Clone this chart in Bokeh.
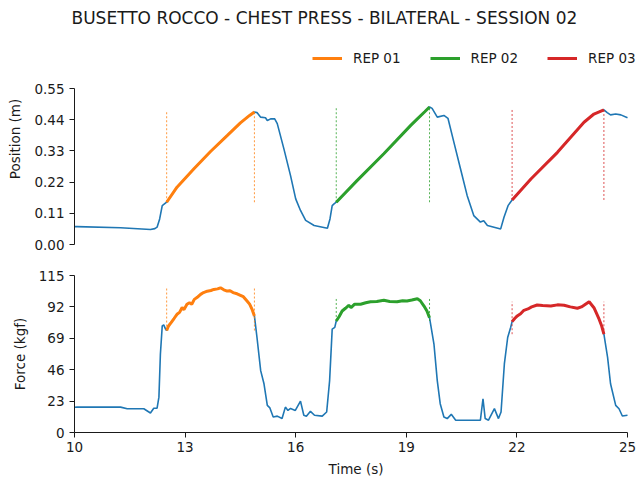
import numpy as np
from bokeh.plotting import figure
from bokeh.layouts import column
from bokeh.models import (Range1d, FixedTicker, PrintfTickFormatter, Legend,
                          LegendItem, Title)
from bokeh.embed import file_html
from bokeh.resources import INLINE

TITLE = "BUSETTO ROCCO - CHEST PRESS - BILATERAL - SESSION 02"
rep_labels = ["REP 01", "REP 02", "REP 03"]
rep_colors = ["#ff7f0e", "#2ca02c", "#d62728"]
rep_start = [12.50, 17.10, 21.87]
rep_end = [14.88, 19.63, 24.36]

pos_ticks = [0.00, 0.11, 0.22, 0.33, 0.44, 0.55]
force_ticks = [0, 23, 46, 69, 92, 115]
time_ticks = [10, 13, 16, 19, 22, 25]

t_pos = [10.00, 10.07, 11.25, 12.06, 12.18, 12.24, 12.31, 12.38, 12.44, 12.50,
         12.78, 13.24, 13.69, 14.14, 14.50, 14.75, 14.88, 14.95, 15.05, 15.18,
         15.23, 15.32, 15.43, 15.50, 15.68, 15.86, 16.00, 16.13, 16.27, 16.50,
         16.86, 16.93, 16.99, 17.04, 17.10, 17.67, 18.39, 19.12, 19.30, 19.50,
         19.63, 19.70, 19.84, 20.02, 20.13, 20.29, 20.47, 20.65, 20.83, 21.01,
         21.10, 21.20, 21.56, 21.65, 21.76, 21.87, 22.38, 23.10, 23.82, 24.09,
         24.36, 24.45, 24.54, 24.68, 24.82, 25.00]
pos = [0.063, 0.063, 0.059, 0.053, 0.056, 0.061, 0.090, 0.137, 0.143, 0.149,
       0.202, 0.267, 0.328, 0.384, 0.429, 0.455, 0.467, 0.465, 0.449, 0.447,
       0.437, 0.443, 0.443, 0.426, 0.337, 0.243, 0.161, 0.120, 0.085, 0.067,
       0.057, 0.090, 0.137, 0.143, 0.149, 0.226, 0.320, 0.420, 0.443, 0.468,
       0.485, 0.480, 0.449, 0.455, 0.445, 0.361, 0.267, 0.173, 0.102, 0.079,
       0.084, 0.067, 0.055, 0.096, 0.137, 0.157, 0.231, 0.325, 0.431, 0.460,
       0.475, 0.465, 0.457, 0.460, 0.457, 0.447]

t_force = [10.00, 10.07, 11.25, 11.43, 11.88, 12.06, 12.15, 12.24, 12.29, 12.33,
           12.38, 12.42, 12.47, 12.50, 12.55, 12.62, 12.70, 12.78, 12.85, 12.92,
           12.97, 13.05, 13.12, 13.18, 13.25, 13.33, 13.42, 13.50, 13.60, 13.70,
           13.78, 13.88, 13.96, 14.05, 14.14, 14.22, 14.30, 14.41, 14.50, 14.58,
           14.68, 14.75, 14.82, 14.88, 14.95, 15.05, 15.14, 15.23, 15.30, 15.39,
           15.50, 15.63, 15.72, 15.79, 15.86, 15.99, 16.13, 16.22, 16.29, 16.40,
           16.51, 16.72, 16.84, 16.92, 16.99, 17.06, 17.10, 17.18, 17.26, 17.35,
           17.44, 17.50, 17.60, 17.76, 17.90, 18.03, 18.20, 18.39, 18.55, 18.75,
           18.90, 19.02, 19.15, 19.30, 19.38, 19.48, 19.56, 19.63, 19.75, 19.84,
           19.92, 20.02, 20.11, 20.22, 20.34, 21.01, 21.08, 21.14, 21.23, 21.39,
           21.50, 21.57, 21.66, 21.75, 21.83, 21.87, 21.94, 22.01, 22.10, 22.19,
           22.30, 22.40, 22.55, 22.70, 22.92, 23.10, 23.28, 23.45, 23.64, 23.75,
           23.82, 23.96, 24.09, 24.23, 24.30, 24.36, 24.46, 24.54, 24.68, 24.77,
           24.86, 25.00]
force = [18.5, 18.6, 18.6, 17.4, 17.4, 14.3, 17.8, 17.8, 25.9, 57.5,
         78.1, 78.8, 75.7, 74.7, 78.0, 80.5, 83.5, 86.6, 88.0, 91.5,
         90.0, 93.9, 95.0, 94.0, 97.5, 99.0, 101.2, 102.5, 103.5, 104.0,
         104.8, 105.2, 106.0, 104.5, 103.6, 103.9, 102.5, 101.6, 100.5, 99.5,
         96.3, 94.0, 90.0, 85.4, 69.6, 45.3, 35.7, 19.9, 18.0, 11.4,
         12.0, 10.2, 18.6, 16.2, 17.6, 16.2, 23.0, 12.6, 11.9, 15.5,
         12.6, 12.0, 15.0, 38.0, 75.7, 77.0, 81.7, 85.0, 89.0, 91.0,
         93.2, 91.5, 94.0, 93.9, 95.0, 95.8, 96.0, 96.8, 96.0, 95.8,
         96.5, 96.3, 97.0, 98.0, 96.5, 92.6, 89.0, 84.1, 64.8, 38.0,
         21.1, 11.4, 10.2, 13.3, 9.0, 9.0, 24.7, 10.2, 9.0, 17.5,
         10.2, 15.0, 50.2, 69.6, 76.9, 81.2, 83.5, 85.4, 87.0, 89.5,
         90.5, 92.0, 93.4, 93.0, 92.6, 93.5, 93.2, 92.0, 91.0, 92.0,
         93.2, 95.8, 91.4, 83.0, 78.0, 72.0, 55.0, 35.7, 19.9, 17.4,
         12.1, 12.6]

FONT = "DejaVu Sans"
BLUE = "#1f77b4"
TXT = "#1a1a1a"

# layout sizes (pixels)
LEFT = 74
PX_PER_S = 553 / 15.0
FRAME_W = 637 - LEFT
X_END = time_ticks[0] + FRAME_W / PX_PER_S
TITLE_H = 33
TOP_PLOT_H = 156                 # height of the 0..0.55 span
TOP_FRAME_H = 244 - TITLE_H      # frame extends up to hold the legend
Y_END_TOP = pos_ticks[-1] * TOP_FRAME_H / TOP_PLOT_H


def style_y(p, ylabel, bounds):
    p.grid.visible = False
    p.outline_line_color = None
    ax = p.yaxis[0]
    ax.bounds = bounds
    ax.axis_label = ylabel
    ax.axis_label_text_font = FONT
    ax.axis_label_text_font_style = "normal"
    ax.axis_label_text_font_size = "13.5px"
    ax.axis_label_text_color = TXT
    ax.axis_label_standoff = 8
    ax.major_label_text_font = FONT
    ax.major_label_text_font_size = "13.5px"
    ax.major_label_text_color = TXT
    ax.major_label_standoff = 5
    ax.major_tick_out = 5
    ax.major_tick_in = 0
    ax.minor_tick_out = 0
    ax.minor_tick_in = 0
    ax.axis_line_color = TXT
    ax.major_tick_line_color = TXT


t_pos_a = np.array(t_pos)
pos_a = np.array(pos)
t_f_a = np.array(t_force)
f_a = np.array(force)

xr = Range1d(time_ticks[0], X_END)

# ---------------- top: position ----------------
top = figure(output_backend="svg", toolbar_location=None,
             frame_width=FRAME_W, frame_height=TOP_FRAME_H,
             min_border_left=LEFT, min_border_right=0,
             min_border_top=TITLE_H, min_border_bottom=15,
             x_range=xr, y_range=Range1d(0, Y_END_TOP),
             x_axis_location=None)
top.title = Title(text=TITLE, align="left", offset=-3, text_font=FONT,
                  text_font_size="17px", text_font_style="normal",
                  text_color=TXT, standoff=11)
style_y(top, "Position (m)", (pos_ticks[0], pos_ticks[-1]))
top.yaxis.ticker = FixedTicker(ticks=pos_ticks)
top.yaxis.formatter = PrintfTickFormatter(format="%.2f")

top.line(t_pos, pos, line_color=BLUE, line_width=1.6)
items = []
for lab, col, s, e in zip(rep_labels, rep_colors, rep_start, rep_end):
    m = (t_pos_a >= s - 1e-9) & (t_pos_a <= e + 1e-9)
    r = top.line(t_pos_a[m], pos_a[m], line_color=col, line_width=3)
    lo, hi = pos_a[m].min(), pos_a[m].max()
    top.segment(x0=[s, e], y0=[lo, lo], x1=[s, e], y1=[hi, hi],
                line_color=col, line_width=1, line_dash="2 2", line_alpha=0.8)
    items.append(LegendItem(label=lab, renderers=[r]))

legend = Legend(items=items, orientation="horizontal",
                location=(312 - LEFT, 244 - 68),
                glyph_width=30, glyph_height=20, label_standoff=11, spacing=29,
                padding=0, margin=0, border_line_color=None,
                background_fill_alpha=0, label_text_font=FONT,
                label_text_font_size="13.5px", label_text_color=TXT,
                label_height=20)
top.add_layout(legend)

# ---------------- bottom: force ----------------
bot = figure(output_backend="svg", toolbar_location=None,
             frame_width=FRAME_W, frame_height=157,
             min_border_left=LEFT, min_border_right=0,
             min_border_top=16, min_border_bottom=47,
             x_range=xr, y_range=Range1d(force_ticks[0], force_ticks[-1]))
style_y(bot, "Force (kgf)", (force_ticks[0], force_ticks[-1]))
bot.yaxis.ticker = FixedTicker(ticks=force_ticks)
xa = bot.xaxis[0]
xa.bounds = (time_ticks[0], time_ticks[-1])
xa.ticker = FixedTicker(ticks=time_ticks)
xa.axis_label = "Time (s)"
xa.axis_label_text_font = FONT
xa.axis_label_text_font_style = "normal"
xa.axis_label_text_font_size = "13.5px"
xa.axis_label_text_color = TXT
xa.axis_label_standoff = 6
xa.major_label_text_font = FONT
xa.major_label_text_font_size = "13.5px"
xa.major_label_text_color = TXT
xa.major_label_standoff = 4
xa.major_tick_out = 5
xa.major_tick_in = 0
xa.minor_tick_out = 0
xa.minor_tick_in = 0
xa.axis_line_color = TXT
xa.major_tick_line_color = TXT

bot.line(t_force, force, line_color=BLUE, line_width=1.6)
for col, s, e in zip(rep_colors, rep_start, rep_end):
    m = (t_f_a >= s - 1e-9) & (t_f_a <= e + 1e-9)
    bot.line(t_f_a[m], f_a[m], line_color=col, line_width=3)
    lo, hi = f_a[m].min(), f_a[m].max()
    bot.segment(x0=[s, e], y0=[lo, lo], x1=[s, e], y1=[hi, hi],
                line_color=col, line_width=1, line_dash="2 2", line_alpha=0.8)

layout = column(top, bot, spacing=0)
open("out.html", "w").write(file_html(layout, INLINE))
